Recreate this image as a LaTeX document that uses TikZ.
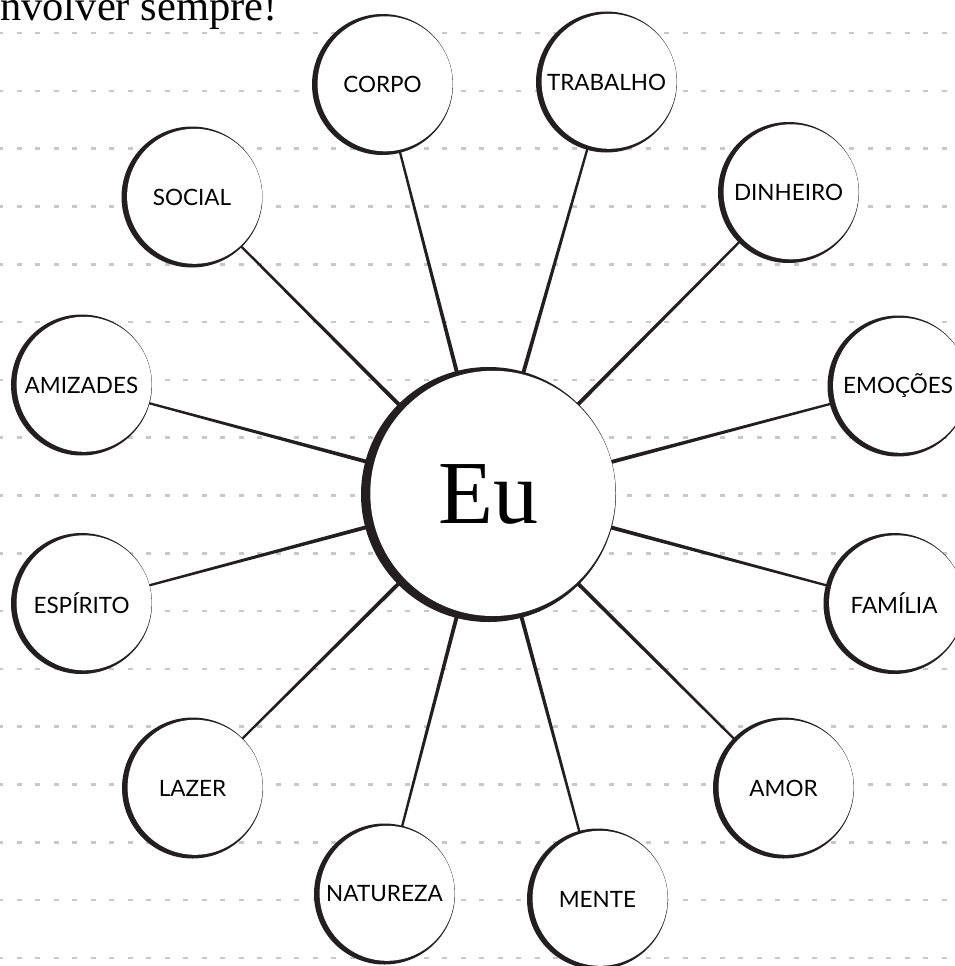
\documentclass[tikz,border=0pt]{standalone}
\usepackage{fontspec}
\setmainfont{Lato}
\newfontfamily\serifEu{Liberation Serif}
\usetikzlibrary{calc}
\pgfdeclarelayer{bg}
\pgfdeclarelayer{mid}
\pgfsetlayers{bg,mid,main}
\definecolor{ink}{RGB}{35,31,32}
\definecolor{gridgray}{RGB}{200,200,200}
\begin{document}
\begin{tikzpicture}[x=1pt,y=-1pt,
  bubble/.style={circle, minimum size=141pt, inner sep=0pt, text=black, font=\fontsize{22.5}{26}\selectfont},
  hub/.style={circle, minimum size=255pt, inner sep=0pt, text=black, font=\serifEu\fontsize{90}{92}\selectfont},
  gridline/.style={gridgray, line width=2.6pt, dash pattern=on 5pt off 13.5pt, dash phase=2pt},
  title/.style={anchor=base west, inner sep=0pt, text=black, font=\serifEu\fontsize{42.5}{48}\selectfont}]
\useasboundingbox (0,0) rectangle (954,966);

\node[title] (title) at (0,20.5) {nvolver sempre!};

\node[hub] (eu) at (488.5,494.5) {Eu};
\node[bubble] (corpo) at (382.5,84.5) {CORPO};
\node[bubble] (trabalho) at (606.5,82) {TRABALHO};
\node[bubble] (dinheiro) at (788.5,192.5) {DINHEIRO};
\node[bubble] (emocoes) at (898,386) {EMOÇÕES};
\node[bubble] (familia) at (894,603.5) {FAMÍLIA};
\node[bubble] (amor) at (783.5,788) {AMOR};
\node[bubble] (mente) at (597.5,899) {MENTE};
\node[bubble] (natureza) at (384.5,894) {NATUREZA};
\node[bubble] (lazer) at (192.5,788) {LAZER};
\node[bubble] (espirito) at (81.5,603.5) {ESPÍRITO};
\node[bubble] (amizades) at (81.5,385) {AMIZADES};
\node[bubble] (social) at (192,197) {SOCIAL};

\begin{pgfonlayer}{bg}
  \foreach \k in {0,...,16}
    \draw[gridline] (0,{33+57.8*\k}) -- (954,{33+57.8*\k});
  \foreach \n in {corpo,trabalho,dinheiro,emocoes,familia,amor,mente,natureza,lazer,espirito,amizades,social}
    \fill[ink] ($(eu.center)!2.4pt!90:(\n.center)$) -- ($(\n.center)!0.9pt!-90:(eu.center)$)
      -- ($(\n.center)!0.9pt!90:(eu.center)$) -- ($(eu.center)!2.4pt!-90:(\n.center)$) -- cycle;
\end{pgfonlayer}

\begin{pgfonlayer}{mid}
  \foreach \n in {corpo,trabalho,dinheiro,emocoes,familia,amor,mente,natureza,lazer,espirito,amizades,social} {
    \fill[ink] (\n.center) circle (70.5);
    \fill[white] ($(\n.center)+(2.6,-0.7)$) circle (67.5);
  }
  \fill[ink] (eu.center) circle (127.5);
  \fill[white] ($(eu.center)+(4.4,-1.1)$) circle (122.6);
\end{pgfonlayer}
\end{tikzpicture}
\end{document}
